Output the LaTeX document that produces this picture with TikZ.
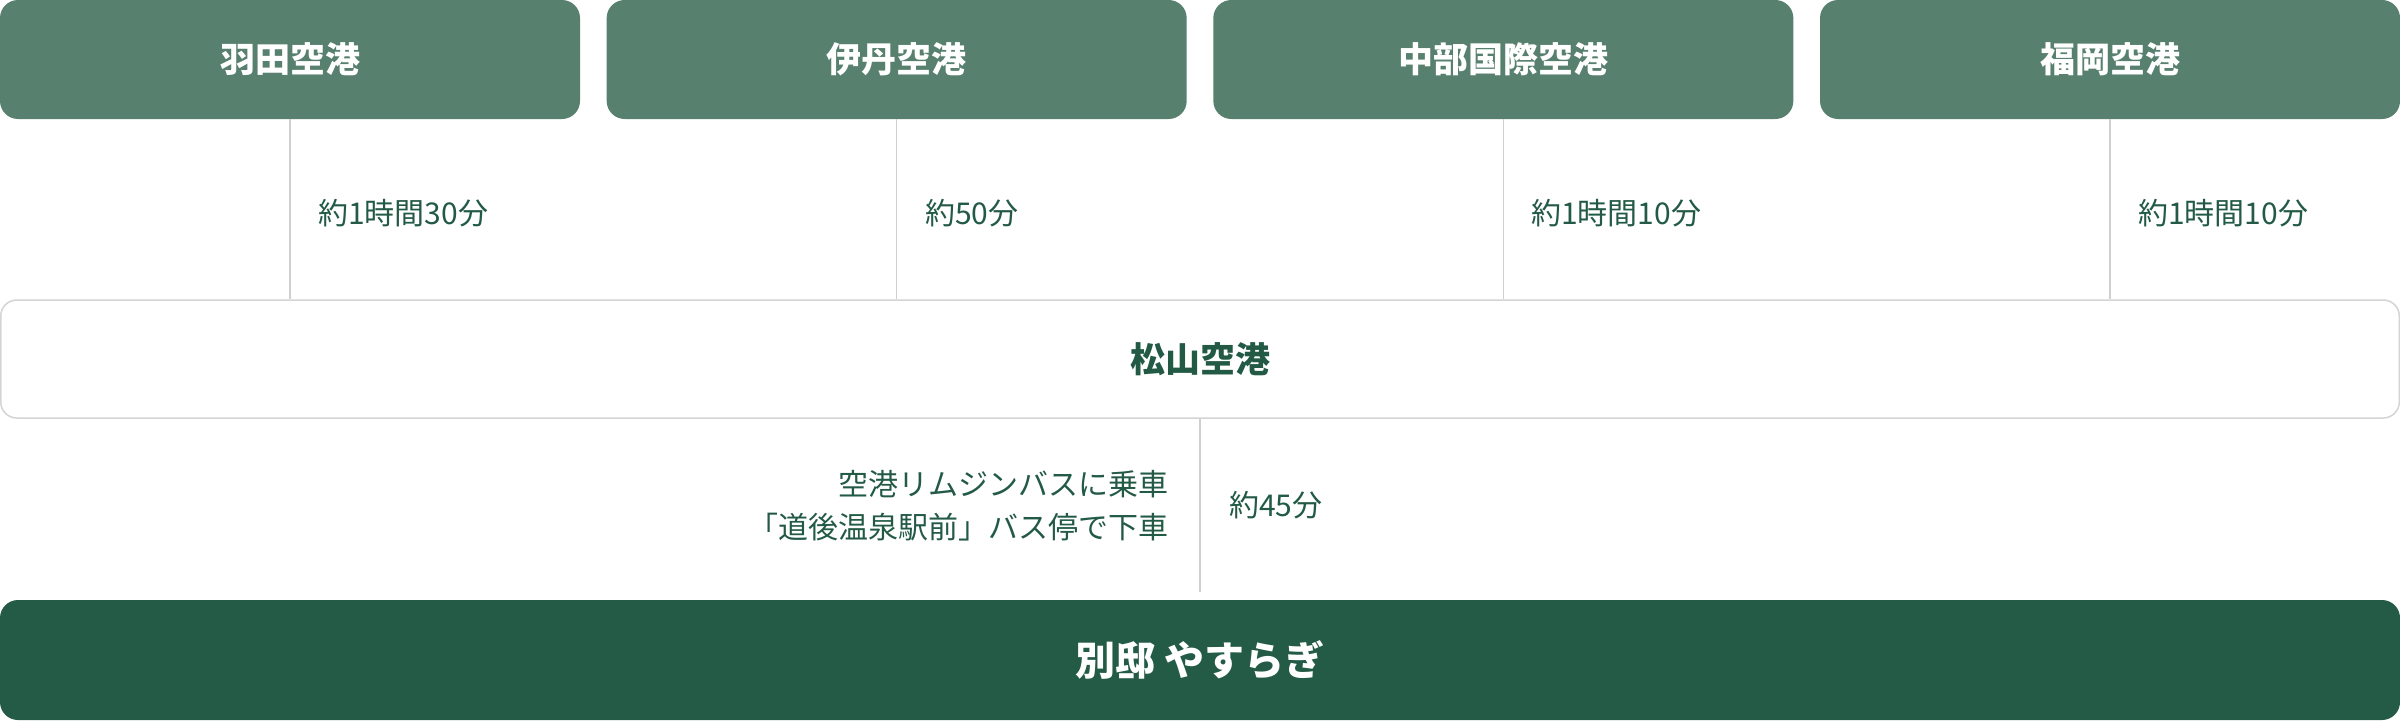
\documentclass[tikz,border=0pt]{standalone}
\usepackage{fontspec}
\setmainfont{Noto Sans CJK JP}
\definecolor{topgreen}{HTML}{58806F}
\definecolor{darkgreen}{HTML}{235B47}
\definecolor{textgreen}{HTML}{235A46}
\definecolor{bordergray}{HTML}{D4D4D4}
\definecolor{linegray}{HTML}{D0D0D0}
\begin{document}
\begin{tikzpicture}[x=1pt,y=-1pt,
  topbox/.style={rectangle,rounded corners=18pt,fill=topgreen,text=white,
    minimum width=580pt,minimum height=119pt,inner sep=0pt,
    font=\fontsize{35}{40}\selectfont\bfseries},
  midbox/.style={rectangle,rounded corners=16pt,fill=white,draw=bordergray,line width=1.5pt,
    text=textgreen,minimum width=2398.5pt,minimum height=118pt,inner sep=0pt,
    font=\fontsize{35}{40}\selectfont\bfseries},
  endbox/.style={rectangle,rounded corners=18pt,fill=darkgreen,text=white,
    minimum width=2400pt,minimum height=120pt,inner sep=0pt,
    font=\fontsize{40}{46}\selectfont\bfseries},
  timelabel/.style={anchor=west,inner sep=0pt,text=textgreen,
    font=\fontsize{30}{43}\selectfont},
  conn/.style={draw=linegray,line width=1.5pt}
]
\useasboundingbox (0,0) rectangle (2400,720);
\node[topbox] (haneda) at (290,59.5) {羽田空港};
\node[topbox] (itami) at (896.67,59.5) {伊丹空港};
\node[topbox] (chubu) at (1503.33,59.5) {中部国際空港};
\node[topbox] (fukuoka) at (2110,59.5) {福岡空港};
\node[midbox] (matsu) at (1200,359) {松山空港};
\node[endbox] (yasu) at (1200,660) {別邸 やすらぎ};
\foreach \n in {haneda,itami,chubu,fukuoka}{
  \draw[conn] (\n.south) -- (\n.south |- matsu.north);
}
\draw[conn,shorten >=8pt] (matsu.south) -- (yasu.north);
\node[timelabel] (t1) at (318,213) {約1時間30分};
\node[timelabel] (t2) at (925,213) {約50分};
\node[timelabel] (t3) at (1531,213) {約1時間10分};
\node[timelabel] (t4) at (2138,213) {約1時間10分};
\node[timelabel] (t5) at (1229,505) {約45分};
\node[timelabel,anchor=east,align=right] (bus) at (1169,506) {空港リムジンバスに乗車\\「道後温泉駅前」バス停で下車};
\end{tikzpicture}
\end{document}
